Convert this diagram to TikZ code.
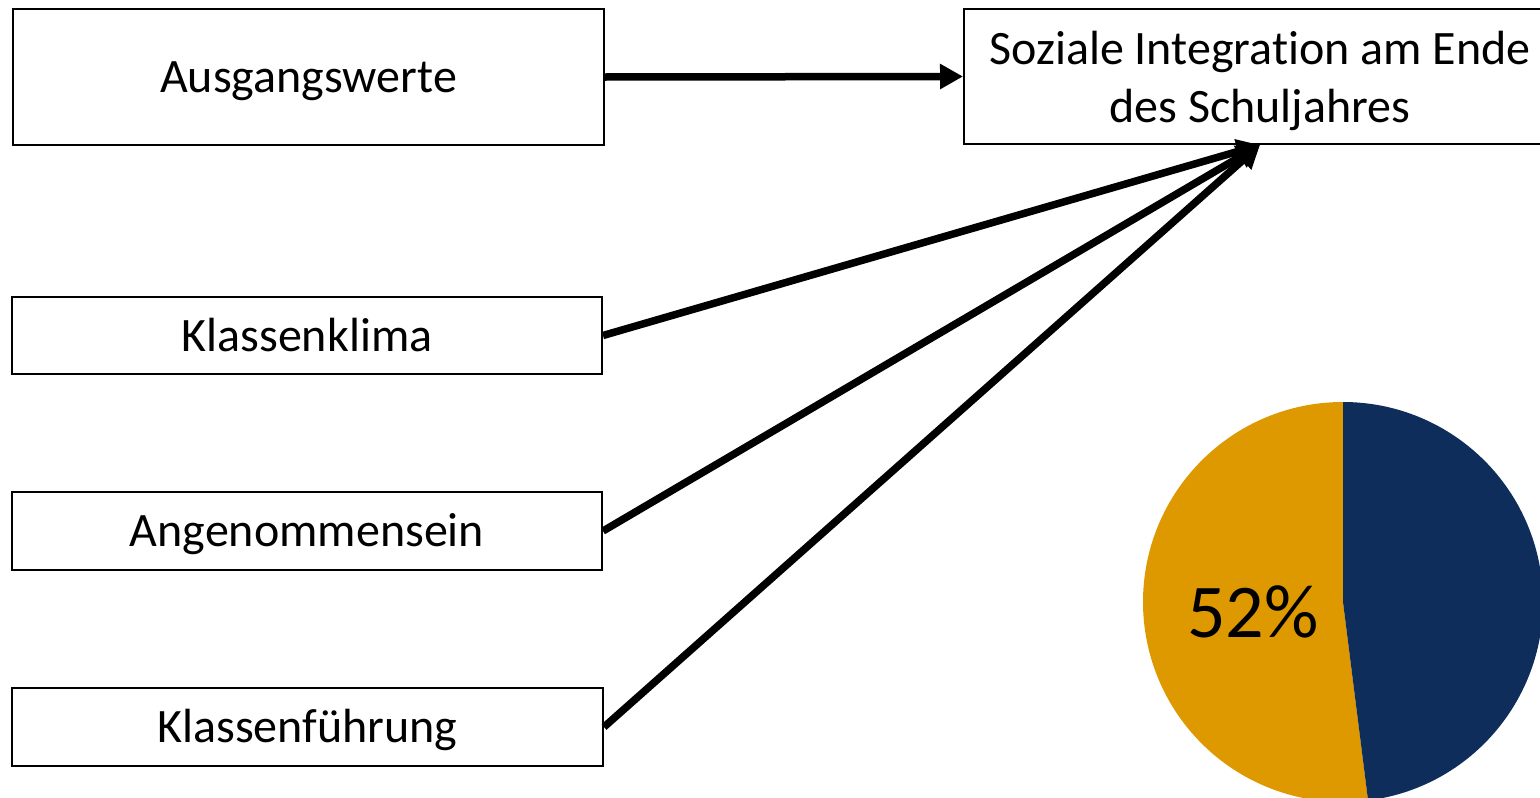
\documentclass[tikz,border=0pt]{standalone}
\usepackage{fontspec}
\setmainfont{Carlito}[Ligatures=NoCommon]
\usetikzlibrary{arrows.meta}
\definecolor{pieorange}{RGB}{222,152,0}
\definecolor{pienavy}{RGB}{15,45,91}
\tikzset{
  boxbase/.style={draw=black, line width=2pt, fill=white, inner sep=0pt},
  box/.style={boxbase, font=\fontsize{48}{58}\selectfont, text height=31pt, text depth=0pt},
  lbl/.style={inner sep=0pt, align=center, font=\fontsize{48}{58}\selectfont},
  link/.style={line width=7.5pt, -{Triangle[length=23pt,width=24pt]}}
}
\begin{document}
\begin{tikzpicture}[x=1pt,y=1pt]
\useasboundingbox (0,0) rectangle (1540,-798);
\clip (0,0) rectangle (1540,-798);
\node[box, minimum width=591pt, minimum height=136pt] (aus) at (308.5,-77) {Ausgangswerte};
\node[boxbase, minimum width=592pt, minimum height=135pt] (soz) at (1260,-76.5) {};
\node[lbl] (sozt) at ([yshift=-4pt]soz.center) {Soziale Integration am Ende\\des Schuljahres};
\node[box, minimum width=590pt, minimum height=77pt] (kk) at (307,-335.5) {Klassenklima};
\node[box, minimum width=590pt, minimum height=78pt] (an) at (307,-531) {Angenommensein};
\node[box, minimum width=591pt, minimum height=78pt] (kf) at (307.5,-727) {Klassenführung};
\draw[link] (aus.east) -- (soz.west);
\draw[link] (kk.east) -- (soz.south);
\draw[link] (an.east) -- (soz.south);
\draw[link] (kf.east) -- (soz.south);
\coordinate (pc) at (1343,-602);
\fill[pieorange] (pc) -- ++(90:200pt) arc[start angle=90, end angle=277.2, radius=200pt] -- cycle;
\fill[pienavy] (pc) -- ++(277.2:200pt) arc[start angle=277.2, end angle=450, radius=200pt] -- cycle;
\node[font=\fontsize{76}{90}\selectfont, inner sep=0pt] (pct) at (1253,-612) {52\%};
\end{tikzpicture}
\end{document}
